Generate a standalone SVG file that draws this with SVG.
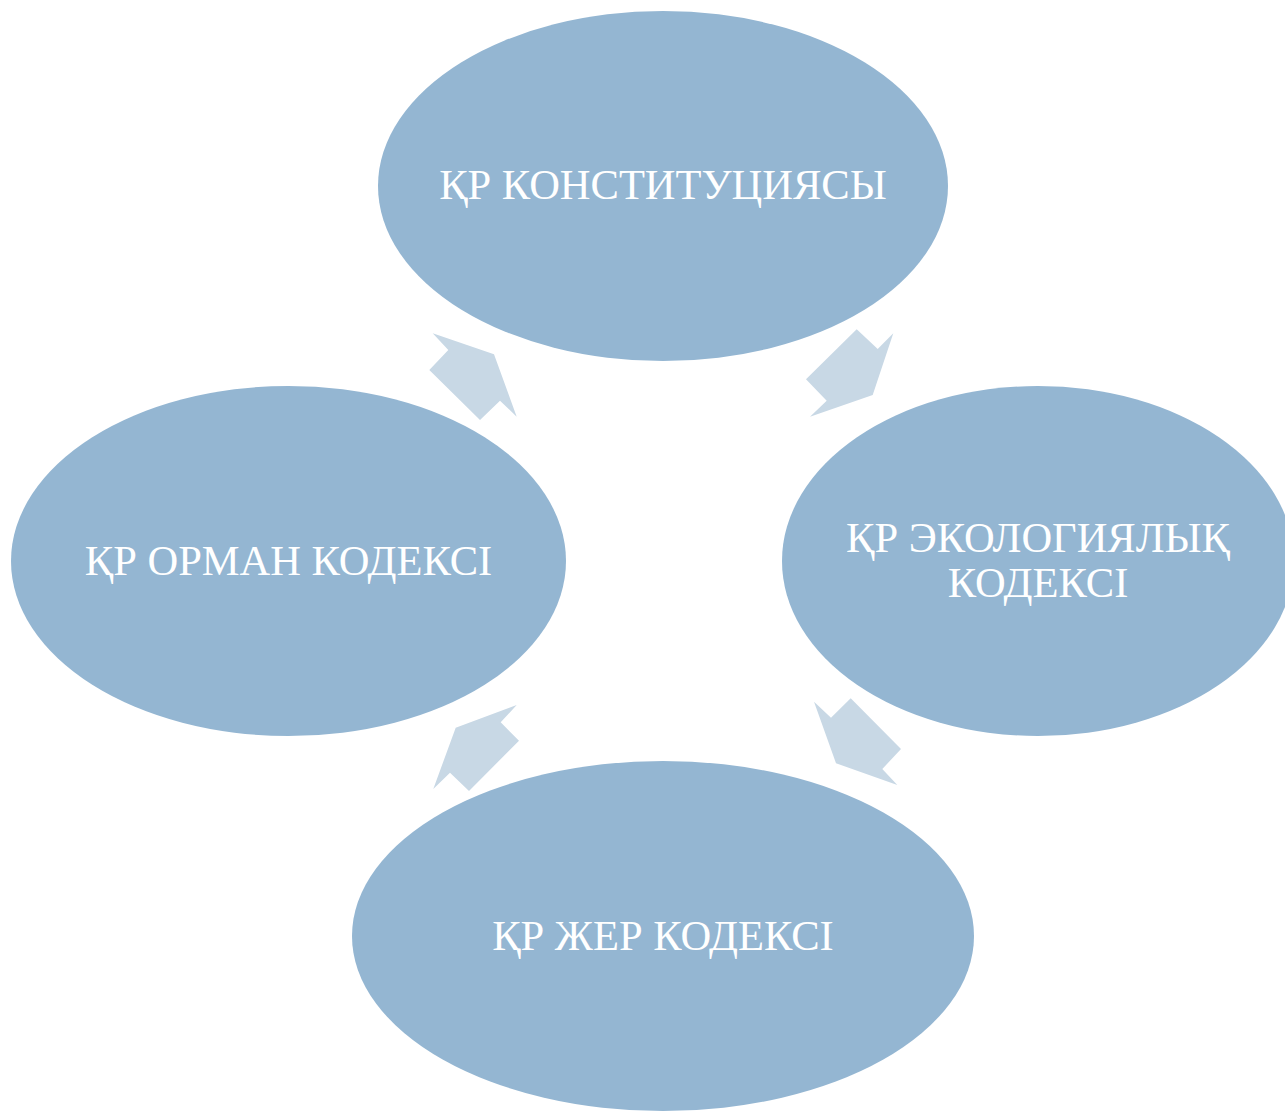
<svg xmlns="http://www.w3.org/2000/svg" width="1285" height="1113" viewBox="0 0 1285 1113">
<style>
.node{fill:#94B6D2}
.arrow{fill:#C8D8E5}
.lbl{font-family:"Liberation Serif","Times New Roman",serif;font-size:42.5px;fill:#FFFFFF;text-anchor:middle}
</style>
<rect width="1285" height="1113" fill="#FFFFFF"/>
<g id="connectors">
<polygon class="arrow" points="856.7,329.3 877.7,349 893.3,333.3 872.7,395 810,416.7 826.7,400.7 806,379.3"/>
<polygon class="arrow" points="814,701.7 831,717.7 850.7,698.3 901,749 882.3,769 897.3,785 836,763.3"/>
<polygon class="arrow" points="516.7,705 500.7,722.3 519,740.7 469,791 450,772.7 433.3,789 455.7,727.7"/>
<polygon class="arrow" points="432.7,333.3 448.3,350 429.3,370 480,420 500,400.7 516.7,416.7 494,354.3"/>
</g>
<g id="node-constitution">
<ellipse class="node" cx="663" cy="186" rx="285" ry="175"/>
<text class="lbl" x="663" y="199">ҚР КОНСТИТУЦИЯСЫ</text>
</g>
<g id="node-ecology">
<ellipse class="node" cx="1038" cy="561" rx="256" ry="175"/>
<text class="lbl" x="1038" y="552">ҚР ЭКОЛОГИЯЛЫҚ</text>
<text class="lbl" x="1038" y="597">КОДЕКСІ</text>
</g>
<g id="node-land">
<ellipse class="node" cx="663" cy="936" rx="311" ry="175"/>
<text class="lbl" x="663" y="950">ҚР ЖЕР КОДЕКСІ</text>
</g>
<g id="node-forest">
<ellipse class="node" cx="288.5" cy="561" rx="277.5" ry="175"/>
<text class="lbl" x="288.5" y="575">ҚР ОРМАН КОДЕКСІ</text>
</g>
</svg>
